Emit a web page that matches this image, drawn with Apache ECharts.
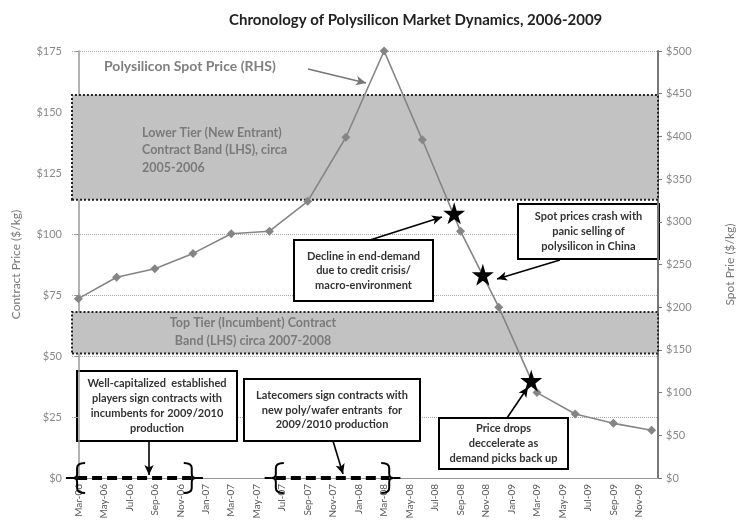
<!DOCTYPE html>
<html>
<head>
<meta charset="utf-8">
<script src="https://cdn.jsdelivr.net/npm/echarts@6/dist/echarts.min.js"></script>
<style>html,body{margin:0;padding:0;background:#fff}#c{width:744px;height:530px}</style>
</head>
<body>
<div id="c"></div>
<script>
// ---- data ----
var months = ['Mar-06','Apr-06','May-06','Jun-06','Jul-06','Aug-06','Sep-06','Oct-06','Nov-06','Dec-06',
  'Jan-07','Feb-07','Mar-07','Apr-07','May-07','Jun-07','Jul-07','Aug-07','Sep-07','Oct-07','Nov-07','Dec-07',
  'Jan-08','Feb-08','Mar-08','Apr-08','May-08','Jun-08','Jul-08','Aug-08','Sep-08','Oct-08','Nov-08','Dec-08',
  'Jan-09','Feb-09','Mar-09','Apr-09','May-09','Jun-09','Jul-09','Aug-09','Sep-09','Oct-09','Nov-09','Dec-09'];
var spotMonths = ['Mar-06','Jun-06','Sep-06','Dec-06','Mar-07','Jun-07','Sep-07','Dec-07',
  'Mar-08','Jun-08','Sep-08','Dec-08','Mar-09','Jun-09','Sep-09','Dec-09'];
var spotPrice = [210,235,245,263,286,289,324,399,500,396,289,200,100,75,64,56];
// event stars: [month position (0 = Mar-06), spot price]
var starPos = [29.5, 31.75, 35.55];
var starPrice = [310, 238, 114];
// contract bands (LHS)
var lowerTierBand = [114, 157];
var topTierBand = [51, 68];
// contract signing periods (month positions)
var incumbentPeriod = [-0.1, 8.9];
var latecomerPeriod = [15.5, 24.4];

var FONT = 'Lato';
var starPath = 'path://M50,0 L61,35 L98,35 L68,57 L79,91 L50,70 L21,91 L32,57 L2,35 L39,35 Z';

var chart = echarts.init(document.getElementById('c'));

function arrowLine(p1, p2, color) {
  return [{x: p1[0], y: p1[1], lineStyle: {color: color, width: 1.6, type: 'solid'}}, {x: p2[0], y: p2[1]}];
}

var option = {
  animation: false,
  backgroundColor: '#fff',
  textStyle: {fontFamily: FONT},
  title: {
    text: 'Chronology of Polysilicon Market Dynamics, 2006-2009',
    left: 224, top: 8,
    textStyle: {fontFamily: FONT, fontSize: 15, fontWeight: 'bold', color: '#222'}
  },
  grid: {left: 72, right: 80, top: 51, bottom: 52},
  xAxis: [{
    type: 'category', data: months, boundaryGap: true,
    axisLine: {lineStyle: {color: '#999', width: 1}},
    axisTick: {interval: 1, alignWithLabel: true, length: 4, lineStyle: {color: '#999'}},
    axisLabel: {interval: 1, rotate: 90, fontSize: 10, color: '#555', margin: 6, fontFamily: FONT},
    splitLine: {show: false}
  }, {
    type: 'value', min: -0.5, max: 45.5, show: false
  }],
  yAxis: [{
    type: 'value', min: 0, max: 175, interval: 25, position: 'left',
    name: 'Contract Price ($/kg)', nameLocation: 'middle', nameGap: 50, nameRotate: 90,
    nameTextStyle: {fontSize: 12, color: '#777', fontFamily: FONT},
    axisLine: {show: true, lineStyle: {color: '#999', width: 1.5}},
    axisTick: {show: true, length: 4, lineStyle: {color: '#999'}},
    axisLabel: {formatter: function(v){ return '$' + v; }, fontSize: 11, color: '#888', margin: 10, fontFamily: FONT},
    splitLine: {show: true, lineStyle: {color: '#a8a8a8', type: 'dotted', width: 1}}
  }, {
    type: 'value', min: 0, max: 500, interval: 50, position: 'right',
    name: 'Spot Prie ($/kg)', nameLocation: 'middle', nameGap: 66, nameRotate: 90,
    nameTextStyle: {fontSize: 12, color: '#777', fontFamily: FONT},
    axisLine: {show: true, lineStyle: {color: '#777', width: 2}},
    axisTick: {show: true, length: 4, lineStyle: {color: '#777'}},
    axisLabel: {formatter: function(v){ return '$' + v; }, fontSize: 11, color: '#888', margin: 8, fontFamily: FONT},
    splitLine: {show: false}
  }],
  series: [{
    name: 'bands', type: 'line', xAxisIndex: 0, yAxisIndex: 0, data: [],
    markArea: {
      silent: true,
      itemStyle: {color: '#c2c2c2', borderColor: '#222', borderWidth: 2, borderType: 'dotted'},
      data: [
        [{yAxis: lowerTierBand[0]}, {yAxis: lowerTierBand[1]}],
        [{yAxis: topTierBand[0]}, {yAxis: topTierBand[1]}]
      ]
    }
  }, {
    name: 'Polysilicon Spot Price (RHS)', type: 'line', xAxisIndex: 0, yAxisIndex: 1, z: 5,
    data: spotMonths.map(function(m, i){ return [m, spotPrice[i]]; }),
    symbol: 'diamond', symbolSize: 9, showAllSymbol: true,
    lineStyle: {color: '#858585', width: 1.6},
    itemStyle: {color: '#858585'}
  }, {
    name: 'events', type: 'scatter', xAxisIndex: 1, yAxisIndex: 1, z: 6,
    data: starPos.map(function(x, i){ return [x, starPrice[i]]; }),
    symbol: starPath, symbolSize: 22,
    itemStyle: {color: '#000', opacity: 1},
    markLine: {
      silent: true, symbol: ['none', 'none'], label: {show: false},
      lineStyle: {color: '#000', width: 4, type: [10, 5]},
      data: [
        [{coord: [incumbentPeriod[0], 0]}, {coord: [incumbentPeriod[1], 0]}],
        [{coord: [latecomerPeriod[0], 0]}, {coord: [latecomerPeriod[1], 0]}]
      ]
    }
  }, {
    name: 'arrows', type: 'line', data: [], xAxisIndex: 0, yAxisIndex: 0,
    markLine: {
      silent: true, symbol: ['none', 'arrow'], symbolSize: [7, 10], label: {show: false},
      data: [
        arrowLine([308, 69], [366, 83], '#777'),
        arrowLine([370, 240], [442, 217], '#000'),
        arrowLine([560, 260], [497, 279], '#000'),
        arrowLine([507, 418], [528, 387], '#000'),
        arrowLine([149, 441], [149, 475], '#000'),
        arrowLine([333, 441], [343, 474], '#000')
      ]
    }
  }]
};
chart.setOption(option);

function box(x, y, w, h, lines, lh) {
  return {
    type: 'group', z: 20,
    children: [{
      type: 'rect', shape: {x: x, y: y, width: w, height: h},
      style: {fill: '#fff', stroke: '#000', lineWidth: 2}
    }, {
      type: 'text',
      style: {x: x + w / 2, y: y + h / 2, text: lines.join('\n'), align: 'center', verticalAlign: 'middle',
        font: 'bold 11px ' + FONT, fill: '#333', lineHeight: lh}
    }]
  };
}

var g = [
  {type: 'text', z: 20, style: {x: 104, y: 66, text: 'Polysilicon Spot Price (RHS)', verticalAlign: 'middle',
    font: 'bold 14px ' + FONT, fill: '#7f7f7f'}},
  {type: 'text', z: 20, style: {x: 142, y: 150, text: 'Lower Tier (New Entrant)\nContract Band (LHS), circa\n2005-2006',
    verticalAlign: 'middle', font: 'bold 12.5px ' + FONT, fill: '#7a7a7a', lineHeight: 17.5}},
  {type: 'text', z: 20, style: {x: 253, y: 332, text: 'Top Tier (Incumbent) Contract\nBand (LHS) circa 2007-2008',
    align: 'center', verticalAlign: 'middle', font: 'bold 12.5px ' + FONT, fill: '#7a7a7a', lineHeight: 18}},
  box(294, 240, 139, 61, ['Decline in end-demand', 'due to credit crisis/', 'macro-environment'], 14.5),
  box(518, 204, 141, 55, ['Spot prices crash with', 'panic selling of', 'polysilicon in China'], 15),
  box(439, 418, 129, 51, ['Price drops', 'deccelerate as', 'demand picks back up'], 15),
  box(77, 371, 160, 70, ['Well-capitalized  established', 'players sign contracts with', 'incumbents for 2009/2010', 'production'], 15),
  box(244, 379, 176, 62, ['Latecomers sign contracts with', 'new poly/wafer entrants  for', '2009/2010 production'], 14.5)
];

// curly brackets at the contract periods; dir = -1 opening '{', +1 closing '}'
function brace(pos, dir) {
  var p = chart.convertToPixel({xAxisIndex: 1, yAxisIndex: 1}, [pos, 0]);
  var cx = p[0], cy = p[1], h = 15, w = 8 * dir;
  var st = {stroke: '#000', lineWidth: 2, fill: null};
  function q(x1, y1, cpx, cpy, x2, y2) {
    return {type: 'bezierCurve', z: 20, shape: {x1: x1, y1: y1, cpx1: cpx, cpy1: cpy, x2: x2, y2: y2}, style: st};
  }
  function ln(x1, y1, x2, y2) {
    return {type: 'line', z: 20, shape: {x1: x1, y1: y1, x2: x2, y2: y2}, style: st};
  }
  return [
    q(cx - w, cy - h, cx, cy - h, cx, cy - h + 5),
    ln(cx, cy - h + 5, cx, cy - 4),
    q(cx, cy - 4, cx, cy, cx + w * 0.5, cy),
    q(cx + w * 0.5, cy, cx, cy, cx, cy + 4),
    ln(cx, cy + 4, cx, cy + h - 5),
    q(cx, cy + h - 5, cx, cy + h, cx - w, cy + h),
    ln(cx + w * 0.5, cy, cx + w * 1.4, cy)
  ];
}
[[incumbentPeriod[0], -1], [incumbentPeriod[1], 1], [latecomerPeriod[0], -1], [latecomerPeriod[1], 1]]
  .forEach(function(b){ g = g.concat(brace(b[0], b[1])); });

chart.setOption({graphic: g});
</script>
</body>
</html>
